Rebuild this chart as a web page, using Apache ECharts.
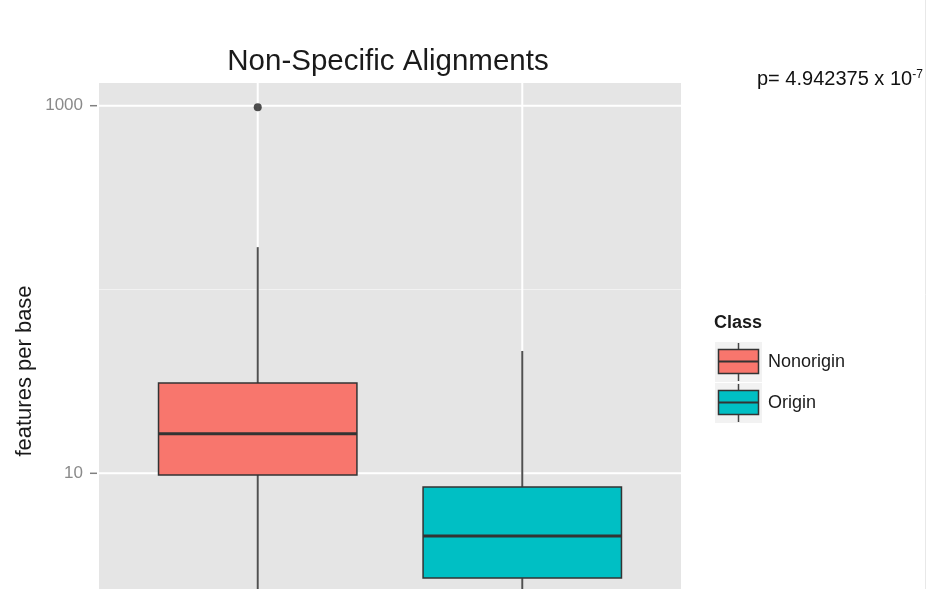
<!DOCTYPE html>
<html>
<head>
<meta charset="utf-8">
<script src="https://cdn.jsdelivr.net/npm/echarts@6/dist/echarts.min.js"></script>
<style>
  html, body { margin: 0; padding: 0; background: #ffffff; }
  #chart { width: 928px; height: 589px; }
</style>
</head>
<body>
<div id="chart"></div>
<script>
// Classes and their fill colours
const classes = ['Nonorigin', 'Origin'];
const classColors = ['#F8766D', '#00BFC4'];

// Box statistics per class: [lower whisker, Q1, median, Q3, upper whisker]
const nonoriginBox = [1.5, 9.8, 16.4, 31, 170];
const originBox = [1.2, 2.69, 4.56, 8.42, 46.3];

// Points beyond the whiskers
const nonoriginOutliers = [980];
const originOutliers = [];

// Log10 y scale: breaks, labels and visible range
const yMajorBreaks = [10, 1000];
const yMinorBreaks = [100];
const yTickLabels = ['10', '1000'];
const yRange = [2.347, 1329];
const xRange = [0.4, 2.6];

const titleText = 'Non-Specific Alignments';
const yTitle = 'features per base';
const legendTitle = 'Class';
const pValueText = 'p= 4.942375 x 10';
const pValueExp = '-7';

const FONT = '"Liberation Sans", Arial, Helvetica, sans-serif';
const boxes = [nonoriginBox, originBox];
const outliers = [nonoriginOutliers, originOutliers];

const chart = echarts.init(document.getElementById('chart'), null, { renderer: 'canvas' });

// Horizontal and vertical panel grid lines
const hLineData = yMinorBreaks.map(v => [1, v, 0]).concat(yMajorBreaks.map(v => [1, v, 1]));
const vLineData = classes.map((c, i) => [i + 1, 10]);

const boxData = boxes.map((b, i) => [i + 1].concat(b));
const outlierData = [];
outliers.forEach((arr, i) => arr.forEach(v => outlierData.push([i + 1, v])));

const tickData = yMajorBreaks.map(v => [xRange[0], v]);

// Legend keys drawn as small boxplot glyphs on grey tiles
const legendChildren = [{
  type: 'text',
  style: { x: 714, y: 323, text: legendTitle, font: 'bold 18px ' + FONT, fill: '#1a1a1a', textVerticalAlign: 'middle' }
}];
classes.forEach((name, i) => {
  const top = 342 + 41 * i;
  legendChildren.push(
    { type: 'rect', shape: { x: 715, y: top, width: 47, height: 40 }, style: { fill: '#F2F2F2' } },
    { type: 'line', shape: { x1: 738.5, y1: top + 1, x2: 738.5, y2: top + 39 }, style: { stroke: '#444', lineWidth: 1.5 } },
    { type: 'rect', shape: { x: 718.5, y: top + 7.5, width: 40, height: 24 }, style: { fill: classColors[i], stroke: '#333', lineWidth: 1.5 } },
    { type: 'line', shape: { x1: 718.5, y1: top + 19.5, x2: 758.5, y2: top + 19.5 }, style: { stroke: '#333', lineWidth: 2 } },
    { type: 'text', style: { x: 768, y: top + 20, text: name, font: '18px ' + FONT, fill: '#1a1a1a', textVerticalAlign: 'middle' } }
  );
});

const option = {
  animation: false,
  backgroundColor: '#ffffff',
  grid: {
    left: 99, top: 83, width: 582, bottom: 0,
    show: true, backgroundColor: '#E5E5E5', borderWidth: 0, containLabel: false
  },
  xAxis: { type: 'value', min: xRange[0], max: xRange[1], show: false },
  yAxis: { type: 'log', logBase: 10, min: yRange[0], max: yRange[1], show: false },
  series: [
    {
      name: 'hgrid', type: 'custom', silent: true, z: 1,
      data: hLineData,
      renderItem(params, api) {
        const cs = params.coordSys;
        const y = api.coord([1, api.value(1)])[1];
        const major = api.value(2) === 1;
        return {
          type: 'line',
          shape: { x1: cs.x, y1: y, x2: cs.x + cs.width, y2: y },
          style: { stroke: major ? '#FFFFFF' : '#F2F2F2', lineWidth: major ? 2 : 1.2 }
        };
      }
    },
    {
      name: 'vgrid', type: 'custom', silent: true, z: 1,
      data: vLineData,
      renderItem(params, api) {
        const cs = params.coordSys;
        const x = api.coord([api.value(0), 10])[0];
        return {
          type: 'line',
          shape: { x1: x, y1: cs.y, x2: x, y2: cs.y + cs.height },
          style: { stroke: '#FFFFFF', lineWidth: 2 }
        };
      }
    },
    {
      name: 'yticks', type: 'custom', silent: true, z: 1, clip: false,
      data: tickData,
      renderItem(params, api) {
        const cs = params.coordSys;
        const y = api.coord([xRange[0], api.value(1)])[1];
        return {
          type: 'group',
          children: [
            { type: 'line', shape: { x1: cs.x - 9, y1: y, x2: cs.x - 2, y2: y }, style: { stroke: '#808080', lineWidth: 1.5 } },
            { type: 'text', style: { x: cs.x - 16, y: y, text: yTickLabels[params.dataIndex], font: '17px ' + FONT, fill: '#8a8a8a', textAlign: 'right', textVerticalAlign: 'middle' } }
          ]
        };
      }
    },
    {
      name: 'boxes', type: 'custom', z: 2,
      encode: { x: 0, y: [1, 2, 3, 4, 5] },
      data: boxData,
      renderItem(params, api) {
        const cs = params.coordSys;
        const bottom = cs.y + cs.height;
        const xc = api.value(0);
        const v = [1, 2, 3, 4, 5].map(d => api.value(d));
        const px = api.coord([xc, v[2]])[0];
        const left = api.coord([xc - 0.375, v[2]])[0];
        const right = api.coord([xc + 0.375, v[2]])[0];
        const py = v.map(val => Math.min(api.coord([xc, val])[1], bottom + 2));
        const color = classColors[params.dataIndex];
        return {
          type: 'group',
          children: [
            { type: 'line', shape: { x1: px, y1: py[0], x2: px, y2: py[1] }, style: { stroke: '#505050', lineWidth: 2 } },
            { type: 'line', shape: { x1: px, y1: py[3], x2: px, y2: py[4] }, style: { stroke: '#505050', lineWidth: 2 } },
            { type: 'rect', shape: { x: left, y: py[3], width: right - left, height: py[1] - py[3] }, style: { fill: color, stroke: '#333', lineWidth: 1.5 } },
            { type: 'line', shape: { x1: left, y1: py[2], x2: right, y2: py[2] }, style: { stroke: '#333', lineWidth: 3 } }
          ]
        };
      }
    },
    {
      name: 'outliers', type: 'scatter', z: 3, silent: true,
      data: outlierData,
      symbol: 'circle', symbolSize: 8,
      itemStyle: { color: '#222222' }
    }
  ],
  graphic: [
    {
      type: 'text', z: 10,
      style: { x: 388, y: 62, text: titleText, font: '29.5px ' + FONT, fill: '#1a1a1a', textAlign: 'center', textVerticalAlign: 'middle' }
    },
    {
      type: 'text', z: 10, x: 25, y: 371, rotation: Math.PI / 2,
      style: { x: 0, y: 0, text: yTitle, font: '22px ' + FONT, fill: '#1a1a1a', textAlign: 'center', textVerticalAlign: 'middle' }
    },
    {
      type: 'text', z: 10,
      style: {
        x: 757, y: 79, textVerticalAlign: 'middle',
        text: '{a|' + pValueText + '}{b|' + pValueExp + '}',
        rich: {
          a: { font: '20px ' + FONT, fill: '#111' },
          b: { font: '12px ' + FONT, fill: '#111', verticalAlign: 'top' }
        }
      }
    },
    {
      type: 'line', z: 10,
      shape: { x1: 925.5, y1: 0, x2: 925.5, y2: 589 },
      style: { stroke: '#E8E8E8', lineWidth: 1 }
    },
    { type: 'group', z: 10, children: legendChildren }
  ]
};

chart.setOption(option);
</script>
</body>
</html>
